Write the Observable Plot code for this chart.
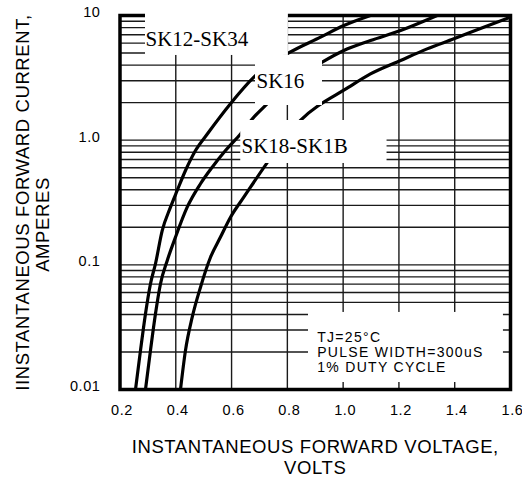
<!DOCTYPE html>
<html><head><meta charset="utf-8">
<script src="https://cdn.jsdelivr.net/npm/d3@7"></script>
<script src="https://cdn.jsdelivr.net/npm/@observablehq/plot@0.6"></script>
<style>
  body { margin: 0; background: #fff; }
  #chart svg { display: block; }
</style>
</head><body><div id="chart"></div>
<script>
// Axis ticks and labels
const xTicks = [0.2, 0.4, 0.6, 0.8, 1.0, 1.2, 1.4, 1.6];
const xTickLabels = ["0.2", "0.4", "0.6", "0.8", "1.0", "1.2", "1.4", "1.6"];
const yTicks = [0.01, 0.1, 1, 10];
const yTickLabels = ["0.01", "0.1", "1.0", "10"];

// Curves: instantaneous forward voltage (V) vs current (A)
const sk12V = [0.2556, 0.2735, 0.2914, 0.3093, 0.3272, 0.3513, 0.3810, 0.4051, 0.4348, 0.4707, 0.513, 0.596, 0.68, 0.808, 0.919, 1.0025, 1.098];
const sk12I = [0.01, 0.0206, 0.0405, 0.0705, 0.102, 0.188, 0.290, 0.395, 0.571, 0.826, 1.12, 1.96, 3.2, 5.05, 6.7, 8.3, 10];
const sk16V = [0.2914, 0.3093, 0.3272, 0.3452, 0.3692, 0.399, 0.4409, 0.4886, 0.5306, 0.5782, 0.632, 0.674, 0.7217, 0.925, 1.0025, 1.098, 1.206, 1.337];
const sk16I = [0.01, 0.0206, 0.0405, 0.0705, 0.108, 0.167, 0.290, 0.447, 0.607, 0.826, 1.12, 1.48, 1.9, 4.22, 5.24, 6.3, 7.58, 10];
const sk18V = [0.4169, 0.4348, 0.4589, 0.4886, 0.5245, 0.5603, 0.5962, 0.6438, 0.6679, 0.847, 1.02, 1.098, 1.206, 1.301, 1.397, 1.504, 1.6];
const sk18I = [0.01, 0.0206, 0.038, 0.0662, 0.115, 0.167, 0.241, 0.349, 0.420, 1.44, 2.66, 3.4, 4.36, 5.4, 6.5, 8.05, 9.7];

// Series labels
const seriesNames = ["SK12-SK34", "SK16", "SK18-SK1B"];
const seriesLabelV = [0.2914, 0.6894, 0.6356];
const seriesLabelI = [6.5, 2.99, 0.901];

// White label backgrounds (data units)
const boxV1 = [0.2914, 0.6858, 0.6329, 0.8758];
const boxV2 = [0.8037, 0.926, 1.1574, 1.5747];
const boxI1 = [4.78, 1.897, 0.650, 0.01138];
const boxI2 = [11, 4.78, 1.438, 0.0415];

// Conditions note
const noteLines = ["TJ=25°C", "PULSE WIDTH=300uS", "1% DUTY CYCLE"];
const noteV = [0.907, 0.907, 0.907];
const noteI = [0.0263, 0.0199, 0.0151];

const xTitle = "INSTANTANEOUS FORWARD VOLTAGE,\nVOLTS";
const yTitle1 = "IINSTANTANEOUS FORWARD CURRENT,";
const yTitle2 = "AMPERES";

// Build tables
const curves = [];
[[sk12V, sk12I, seriesNames[0]], [sk16V, sk16I, seriesNames[1]], [sk18V, sk18I, seriesNames[2]]]
  .forEach(([vs, is, name]) => vs.forEach((v, k) => curves.push({series: name, v, i: is[k]})));
const yGrid = [];
[0.01, 0.1, 1].forEach(dec => { for (let m = 1; m <= 9; m++) yGrid.push(+(dec * m).toPrecision(3)); });
yGrid.push(10);
const xGrid = xTicks;
const boxes = boxV1.map((v, k) => ({v1: v, v2: boxV2[k], i1: boxI1[k], i2: boxI2[k]}));
const seriesLabels = seriesNames.map((n, k) => ({n, v: seriesLabelV[k], i: seriesLabelI[k]}));
const notes = noteLines.map((t, k) => ({t, v: noteV[k], i: noteI[k]}));

const sans = "'Liberation Sans', Arial, sans-serif";
const chart = Plot.plot({
  width: 522,
  height: 477,
  marginLeft: 119.5,
  marginRight: 12,
  marginTop: 15,
  marginBottom: 88,
  style: {fontFamily: sans, fontSize: "14px", color: "#000", background: "#fff", overflow: "visible"},
  x: {domain: [0.2, 1.6]},
  y: {type: "log", domain: [0.01, 10]},
  marks: [
    Plot.ruleY(yGrid, {stroke: "#1a1a1a", strokeWidth: 1.4}),
    Plot.ruleX(xGrid, {stroke: "#1a1a1a", strokeWidth: 1.4}),
    Plot.frame({stroke: "#000", strokeWidth: 3.5}),
    Plot.line(curves, {x: "v", y: "i", z: "series", stroke: "#000", strokeWidth: 3.2, curve: "monotone-x", clip: true}),
    Plot.rect(boxes, {x1: "v1", x2: "v2", y1: "i1", y2: "i2", fill: "#fff"}),
    Plot.text(seriesLabels, {x: "v", y: "i", text: "n", textAnchor: "start", lineAnchor: "middle",
      fontFamily: "'Liberation Serif', 'Times New Roman', serif", fontSize: 21, fill: "#000"}),
    Plot.text(notes, {x: "v", y: "i", text: "t", textAnchor: "start", lineAnchor: "middle", fontFamily: sans, fontSize: 14, fill: "#000"}),
    Plot.axisX(xTicks, {tickSize: 0, tickPadding: 15, dx: 2, fontSize: 14.5, fontFamily: sans, label: null,
      tickFormat: d => xTickLabels[xTicks.indexOf(d)]}),
    Plot.axisY(yTicks, {tickSize: 0, tickPadding: 19.5, dy: -3, fontSize: 14.5, fontFamily: sans, label: null,
      tickFormat: d => yTickLabels[yTicks.indexOf(d)]}),
    Plot.text([xTitle], {frameAnchor: "bottom", textAnchor: "middle", lineAnchor: "top", dy: 48, fontFamily: sans, fontSize: 18.5, lineHeight: 1.15, fill: "#000"}),
    Plot.text([yTitle1], {frameAnchor: "left", textAnchor: "middle", lineAnchor: "top", rotate: -90, dx: -104, fontFamily: sans, fontSize: 18.5, fill: "#000"}),
    Plot.text([yTitle2], {frameAnchor: "left", textAnchor: "middle", lineAnchor: "top", rotate: -90, dx: -84, dy: 22, fontFamily: sans, fontSize: 18.5, fill: "#000"})
  ]
});
// Text styling (sizes and letter spacing) applied directly to the rendered text
d3.select(chart).selectAll("text").each(function() {
  const t = this.textContent;
  const s = this.style;
  if (xTickLabels.includes(t) || yTickLabels.includes(t)) {
    s.fontSize = "14.5px"; s.letterSpacing = "0.6px";
  } else if (t.includes("INSTANTANEOUS") || t === yTitle2) {
    s.fontSize = "18.5px"; s.letterSpacing = "0.6px";
  } else if (noteLines.includes(t)) {
    s.fontSize = "14px"; s.letterSpacing = "1.3px";
  }
});
document.getElementById("chart").appendChild(chart);
</script>
</body></html>
